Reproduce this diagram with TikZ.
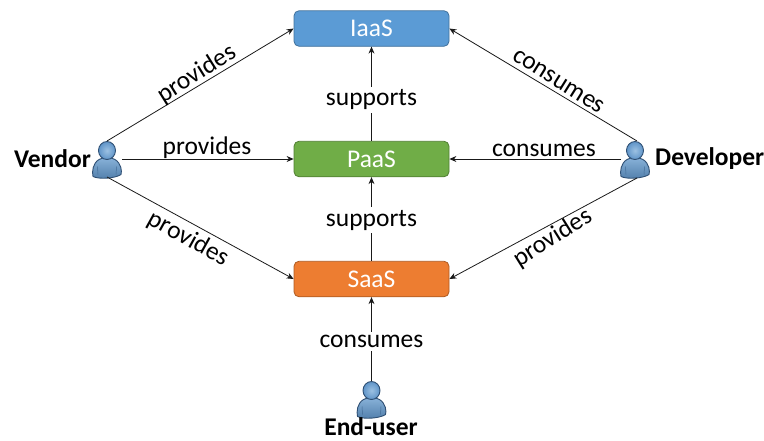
\documentclass[tikz,border=0pt]{standalone}
\usepackage{fontspec}
\setmainfont{Carlito}
\usetikzlibrary{arrows.meta,calc}
\definecolor{boxblue}{HTML}{5B9BD5}
\definecolor{boxblueE}{HTML}{41719C}
\definecolor{boxgreen}{HTML}{70AD47}
\definecolor{boxgreenE}{HTML}{507E32}
\definecolor{boxorange}{HTML}{ED7D31}
\definecolor{boxorangeE}{HTML}{AE5A21}
\definecolor{persondark}{HTML}{2F4F73}
\definecolor{personmid}{HTML}{5F94C8}
\definecolor{personlight}{HTML}{9CC1E2}
\tikzset{
  x=1pt,y=-1pt,
  layer/.style={rounded corners=5pt,minimum width=155pt,minimum height=35.5pt,inner sep=0pt,line width=.8pt,text=white,font=\fontsize{25.5}{28}\selectfont},
  conn/.style={draw=black!90,line width=.8pt,-{Stealth[length=7pt,width=6pt]}},
  lab/.style={font=\fontsize{25.5}{28}\selectfont,inner sep=1pt,text=black},
  gaplab/.style={lab,fill=white,inner xsep=1pt,inner ysep=3pt},
  who/.style={font=\bfseries\fontsize{25.5}{28}\selectfont,inner sep=0pt,text=black},
  persondot/.style={minimum width=28pt,minimum height=36pt,inner sep=0pt},
  personicon/.pic={
    \draw[persondark,line width=.9pt,top color=personlight!70!personmid,bottom color=personmid!85!black]
      (-14,17) .. controls (-15,12) and (-14.5,4) .. (-8,0) .. controls (-4,-2.5) and (4,-2.5) .. (8,0)
      .. controls (14.5,4) and (15,12) .. (14,15) .. controls (8,19) and (-8,20) .. (-14,17) -- cycle;
    \draw[persondark!60!personmid,line width=.5pt] (-9,15) -- (-9.5,7) (9,15) -- (9.5,7);
    \shade[inner color=personlight,outer color=personmid,draw=persondark,line width=.9pt]
      (0,-9) ellipse (8.5 and 9);
  }
}
\begin{document}
\begin{tikzpicture}
\useasboundingbox (0,0) rectangle (764,440);
\node[layer,fill=boxblue,draw=boxblueE] (iaas) at (371.5,28.5) {IaaS};
\node[layer,fill=boxgreen,draw=boxgreenE] (paas) at (371.5,159) {PaaS};
\node[layer,fill=boxorange,draw=boxorangeE] (saas) at (371.5,279) {SaaS};

\node[persondot] (vendor) at (107,159.5) {};
\node[persondot] (dev) at (635,159.5) {};
\node[persondot] (user) at (371.5,399.5) {};
\path (vendor) +(0,0) pic {personicon};
\path (dev) +(0,0) pic {personicon};
\path (user) +(0,0) pic {personicon};

\node[who,anchor=east] (vlab) at (91,159) {Vendor};
\node[who,anchor=west] (dlab) at (655,159) {Developer};
\node[who] (ulab) at (371,426.5) {End-user};

\coordinate (vt) at (107,141);
\coordinate (vb) at (107,177);
\coordinate (vr) at (122,159);
\coordinate (dt) at (637,141);
\coordinate (db) at (637,178);
\coordinate (dl) at (621,159);

\draw[conn] (vt) -- (iaas.west);
\draw[conn] (vr) -- (paas.west);
\draw[conn] (vb) -- (saas.west);
\draw[conn] (dt) -- (iaas.east);
\draw[conn] (dl) -- (paas.east);
\draw[conn] (db) -- (saas.east);
\draw[conn] (paas.north) -- node[gaplab,pos=.437] (s1) {supports} (iaas.south);
\draw[conn] (saas.north) -- node[gaplab,pos=.488] (s2) {supports} (paas.south);
\draw[conn] (user.north) -- node[gaplab,pos=.47] (c0) {consumes} (saas.south);

\node[lab,rotate=32] (p1) at (197,74) {provides};
\node[lab] (p2) at (207,148) {provides};
\node[lab,rotate=-29] (p3) at (188,239) {provides};
\node[lab,rotate=-32] (c1) at (558.5,81.5) {consumes};
\node[lab] (c2) at (544,150) {consumes};
\node[lab,rotate=32] (p4) at (553,238) {provides};
\end{tikzpicture}
\end{document}
